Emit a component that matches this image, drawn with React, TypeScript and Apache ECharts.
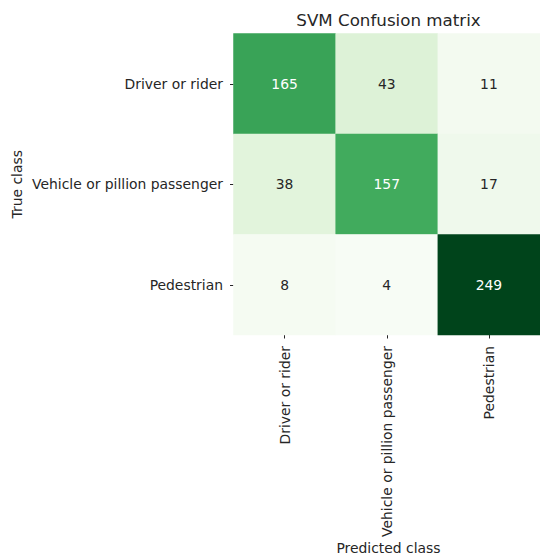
import React, { useEffect, useRef } from "react";
import * as echarts from "echarts";

const categories = ["Driver or rider", "Vehicle or pillion passenger", "Pedestrian"];
// rows = true class, columns = predicted class
const matrix = [
  [165, 43, 11],
  [38, 157, 17],
  [8, 4, 249],
];
const greens = ["#f7fcf5", "#e5f5e0", "#c7e9c0", "#a1d99b", "#74c476", "#41ab5d", "#238b45", "#006d2c", "#00441b"];
const titleText = "SVM Confusion matrix";
const xName = "Predicted class";
const yName = "True class";

export default function App() {
  const ref = useRef<HTMLDivElement>(null);
  useEffect(() => {
    if (!ref.current) return;
    const chart = echarts.init(ref.current, null, { renderer: "svg" });
    const flat = matrix.flat();
    const vmin = Math.min(...flat);
    const vmax = Math.max(...flat);
    const mid = (vmin + vmax) / 2;
    const data: any[] = [];
    matrix.forEach((row, r) =>
      row.forEach((v, c) => {
        data.push({ value: [c, r, v], label: { color: v > mid ? "#ffffff" : "#262626" } });
      })
    );
    const font = "DejaVu Sans";
    const gl = 233.5, gt = 33.5, gw = 310, gh = 301.5;
    chart.setOption({
      animation: false,
      backgroundColor: "#ffffff",
      grid: { left: gl, top: gt, width: gw, height: gh, containLabel: false },
      xAxis: {
        type: "category",
        data: categories,
        position: "bottom",
        axisLine: { show: false },
        axisTick: { show: true, alignWithLabel: true, length: 3.5, lineStyle: { color: "#262626", width: 1 } },
        axisLabel: { rotate: 90, margin: 11, color: "#262626", fontFamily: font, fontSize: 13.9 },
        splitLine: { show: false },
      },
      yAxis: {
        type: "category",
        data: categories,
        inverse: true,
        axisLine: { show: false },
        axisTick: { show: true, alignWithLabel: true, length: 3.5, lineStyle: { color: "#262626", width: 1 } },
        axisLabel: { margin: 10.5, color: "#262626", fontFamily: font, fontSize: 13.9 },
        splitLine: { show: false },
      },
      visualMap: {
        show: false,
        min: vmin,
        max: vmax,
        dimension: 2,
        inRange: { color: greens },
      },
      series: [
        {
          type: "heatmap",
          data,
          label: { show: true, fontFamily: font, fontSize: 13.9, fontWeight: "normal" },
          itemStyle: { borderWidth: 0 },
          emphasis: { disabled: true },
        },
      ],
      graphic: [
        {
          type: "text",
          x: gl + gw / 2,
          y: 20,
          style: { text: titleText, fill: "#262626", font: `16.7px "${font}"`, textAlign: "center", textVerticalAlign: "middle" },
        },
        {
          type: "text",
          x: gl + gw / 2,
          y: 548,
          style: { text: xName, fill: "#262626", font: `13.9px "${font}"`, textAlign: "center", textVerticalAlign: "middle" },
        },
        {
          type: "text",
          x: 17,
          y: gt + gh / 2,
          rotation: Math.PI / 2,
          style: { text: yName, fill: "#262626", font: `13.9px "${font}"`, textAlign: "center", textVerticalAlign: "middle" },
        },
      ],
    });
    return () => chart.dispose();
  }, []);
  return <div ref={ref} style={{ position: "fixed", left: 0, top: 0, width: 540, height: 556 }} />;
}
